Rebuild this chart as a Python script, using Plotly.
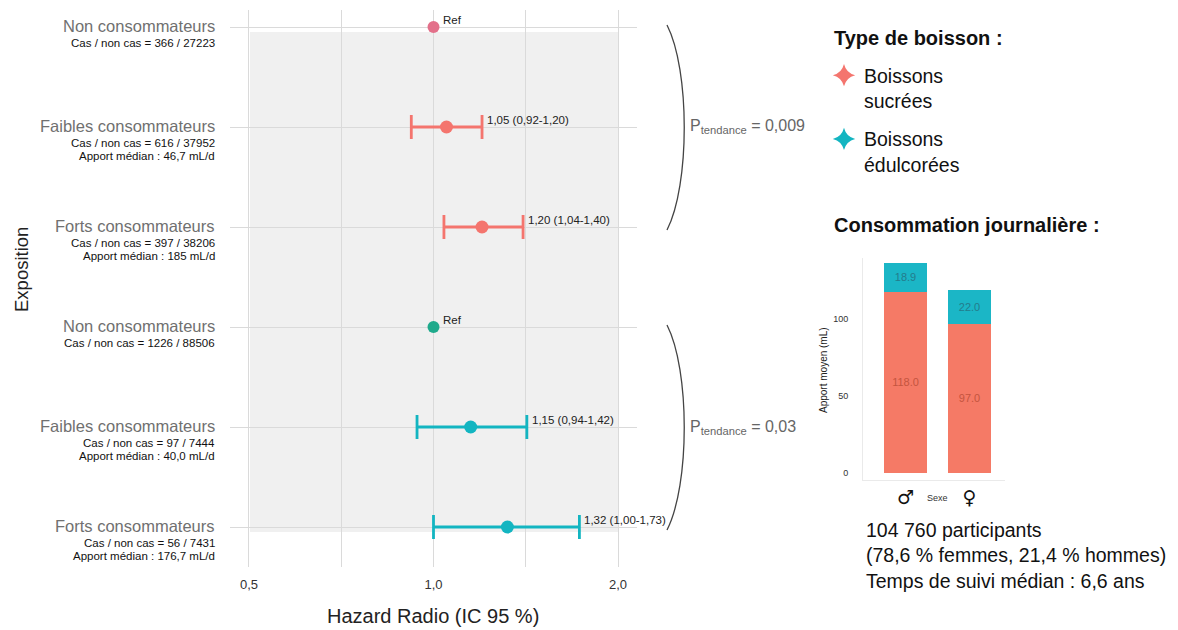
import math
import plotly.graph_objects as go

# ---------------- data ----------------
categories = ["Non consommateurs", "Faibles consommateurs", "Forts consommateurs"]
cas_sucrees = ["Cas / non cas = 366 / 27223", "Cas / non cas = 616 / 37952", "Cas / non cas = 397 / 38206"]
apport_sucrees = ["", "Apport médian : 46,7 mL/d", "Apport médian : 185 mL/d"]
cas_edul = ["Cas / non cas = 1226 / 88506", "Cas / non cas = 97 / 7444", "Cas / non cas = 56 / 7431"]
apport_edul = ["", "Apport médian : 40,0 mL/d", "Apport médian : 176,7 mL/d"]

hr_sucrees = [1.00, 1.05, 1.20]
lo_sucrees = [None, 0.92, 1.04]
hi_sucrees = [None, 1.20, 1.40]
hr_edul = [1.00, 1.15, 1.32]
lo_edul = [None, 0.94, 1.00]
hi_edul = [None, 1.42, 1.73]
p_tendance = ["0,009", "0,03"]

x_ticks = [0.5, 1.0, 2.0]
x_ticktext = ["0,5", "1,0", "2,0"]
x_minor = [0.7071, 1.4142]

sexe = ["♂", "♀"]
conso_sucrees = [118.0, 97.0]
conso_edul = [18.9, 22.0]

participants_text = ["104 760 participants", "(78,6 % femmes, 21,4 % hommes)", "Temps de suivi médian : 6,6 ans"]

# ---------------- styles ----------------
OFF = 8  # default page body margin
W, H = 1178 - OFF, 630 - OFF
FONT = "Liberation Sans, Arial, Helvetica, sans-serif"
RED = "#F4756E"
RED_REF = "#E3708A"
TEAL = "#13B5C1"
TEAL_REF = "#1FAA8C"
BAR_RED = "#F57A66"
BAR_TEAL = "#1BB6C6"


def px(x):
    return (x - OFF) / W


def py(y):
    return 1 - (y - OFF) / H


def fmt(v):
    return f"{v:.2f}".replace(".", ",")


rows_s = [6, 5, 4]
rows_e = [3, 2, 1]

fig = go.Figure()


def add_series(hr, lo, hi, rows, color, ref_color):
    idx = [i for i in range(len(hr)) if lo[i] is not None]
    fig.add_trace(go.Scatter(
        x=[hr[i] for i in idx], y=[rows[i] for i in idx], mode="markers",
        marker=dict(color=color, size=13),
        error_x=dict(type="data", symmetric=False,
                     array=[hi[i] - hr[i] for i in idx],
                     arrayminus=[hr[i] - lo[i] for i in idx],
                     color=color, thickness=2.8, width=12),
        showlegend=False, cliponaxis=False, hoverinfo="skip"))
    ref = [i for i in range(len(hr)) if lo[i] is None]
    fig.add_trace(go.Scatter(
        x=[hr[i] for i in ref], y=[rows[i] for i in ref], mode="markers",
        marker=dict(color=ref_color, size=12),
        showlegend=False, cliponaxis=False, hoverinfo="skip"))
    for i in range(len(hr)):
        if lo[i] is None:
            fig.add_annotation(x=math.log10(hr[i]), y=rows[i], xref="x", yref="y",
                               text="Ref", showarrow=False, xanchor="left", yanchor="middle",
                               xshift=7, yshift=7, font=dict(size=11.5, color="#222", family=FONT))
        else:
            fig.add_annotation(x=math.log10(hi[i]), y=rows[i], xref="x", yref="y",
                               text=f"{fmt(hr[i])} ({fmt(lo[i])}-{fmt(hi[i])})", showarrow=False,
                               xanchor="left", yanchor="middle", xshift=3, yshift=7,
                               font=dict(size=11.5, color="#222", family=FONT))


add_series(hr_sucrees, lo_sucrees, hi_sucrees, rows_s, RED, RED_REF)
add_series(hr_edul, lo_edul, hi_edul, rows_e, TEAL, TEAL_REF)

# legend-only traces
fig.add_trace(go.Scatter(x=[None], y=[None], mode="markers", name="Boissons<br>sucrées", legendgroup="s",
                         marker=dict(symbol="star-diamond", size=16, color=RED)))
fig.add_trace(go.Scatter(x=[None], y=[None], mode="markers", name="Boissons<br>édulcorées", legendgroup="e",
                         marker=dict(symbol="star-diamond", size=16, color=TEAL)))

# inset stacked bars
fig.add_trace(go.Bar(x=sexe, y=conso_sucrees, xaxis="x2", yaxis="y2", marker=dict(color=BAR_RED, line=dict(width=0)),
                     text=[f"{v:.1f}" for v in conso_sucrees], textposition="inside", insidetextanchor="middle",
                     textfont=dict(color="#C4553F", size=11, family=FONT), showlegend=False, hoverinfo="skip"))
fig.add_trace(go.Bar(x=sexe, y=conso_edul, xaxis="x2", yaxis="y2", marker=dict(color=BAR_TEAL, line=dict(width=0)),
                     text=[f"{v:.1f}" for v in conso_edul], textposition="inside", insidetextanchor="middle",
                     textfont=dict(color="#237C8C", size=11, family=FONT), showlegend=False, hoverinfo="skip"))

# row labels
for rows, cas, app in [(rows_s, cas_sucrees, apport_sucrees), (rows_e, cas_edul, apport_edul)]:
    for i, cat in enumerate(categories):
        fig.add_annotation(x=px(217), y=rows[i], xref="paper", yref="y", text=cat, showarrow=False,
                           xanchor="right", yanchor="middle", yshift=1,
                           font=dict(size=16.5, color="#707070", family=FONT))
        fig.add_annotation(x=px(217), y=rows[i], xref="paper", yref="y", text=cas[i], showarrow=False,
                           xanchor="right", yanchor="middle", yshift=-16,
                           font=dict(size=11.5, color="#111", family=FONT))
        if app[i]:
            fig.add_annotation(x=px(217), y=rows[i], xref="paper", yref="y", text=app[i], showarrow=False,
                               xanchor="right", yanchor="middle", yshift=-29,
                               font=dict(size=11.5, color="#111", family=FONT))

# p tendance braces and labels
for rows, p in [(rows_s, p_tendance[0]), (rows_e, p_tendance[1])]:
    top = rows[0] + 0.02
    bot = rows[-1] - 0.03
    x0 = px(667)
    xc = px(690)
    fig.add_shape(type="path", xref="paper", yref="y",
                  path=f"M {x0},{top} C {xc},{top - 0.45} {xc},{bot + 0.45} {x0},{bot}",
                  line=dict(color="#444", width=1.3))
    fig.add_annotation(x=px(688), y=rows[1], xref="paper", yref="y",
                       text=f"P<sub>tendance</sub> = {p}", showarrow=False, xanchor="left", yanchor="middle",
                       font=dict(size=16, color="#666", family=FONT))

# grey panel
fig.add_shape(type="rect", xref="paper", yref="paper", x0=px(250), x1=px(618), y0=py(532), y1=py(32),
              fillcolor="#F0F0F0", line=dict(width=0), layer="below")
# reference dashed line at HR = 1
fig.add_shape(type="line", xref="x", yref="y domain", x0=0, x1=0, y0=0, y1=1,
              line=dict(color="#222", width=1.3, dash="dash"))


def text_at(x, y, text, size, color="#111", xanchor="center", angle=0, align="left", family=FONT):
    fig.add_annotation(x=px(x), y=py(y), xref="paper", yref="paper", text=text, textangle=angle,
                       showarrow=False, xanchor=xanchor, yanchor="middle", align=align,
                       font=dict(size=size, color=color, family=family))


text_at(433, 616, "Hazard Radio (IC 95 %)", 20, "#222")
text_at(21, 270, "Exposition", 18.5, "#222", angle=-90)
text_at(832, 38, "<b>Type de boisson :</b>", 20, xanchor="left")
text_at(832, 225, "<b>Consommation journalière :</b>", 20, xanchor="left")
text_at(823, 370, "Apport moyen (mL)", 10, "#222", angle=-90)
text_at(937, 498, "Sexe", 9, "#333")
text_at(864, 555, "<br>".join(participants_text), 19.5, xanchor="left")

fig.update_layout(
    width=W, height=H, margin=dict(l=0, r=0, t=0, b=0),
    paper_bgcolor="white", plot_bgcolor="rgba(0,0,0,0)",
    font=dict(family=FONT),
    barmode="stack", bargap=0.34,
    xaxis=dict(type="log", domain=[px(230), px(637)], range=[-0.332, 0.332],
               tickvals=x_ticks, ticktext=x_ticktext, showgrid=True, gridcolor="#DADADA", gridwidth=1,
               minor=dict(tickvals=x_minor, showgrid=True, gridcolor="#DADADA", gridwidth=1, ticks=""),
               zeroline=False, showline=False, ticks="", ticklabelstandoff=8,
               tickfont=dict(size=13, color="#333", family=FONT)),
    yaxis=dict(domain=[py(567), py(10)], range=[0.6, 6.17], tickvals=[1, 2, 3, 4, 5, 6],
               showticklabels=False, showgrid=True, gridcolor="#DADADA", gridwidth=1,
               zeroline=False, showline=False, ticks=""),
    xaxis2=dict(domain=[px(863), px(1005)], range=[-0.664, 1.555], anchor="y2",
                showgrid=False, zeroline=False, showline=True, linecolor="#EAEAEA", ticks="",
                tickfont=dict(size=19, color="#111", family="DejaVu Sans")),
    yaxis2=dict(domain=[py(480), py(258)], range=[-4.8, 140], anchor="x2",
                tickvals=[0, 50, 100], showgrid=False, zeroline=False, showline=True, linecolor="#EAEAEA",
                ticks="", ticklabelstandoff=12, tickfont=dict(size=9, color="#333", family=FONT)),
    legend=dict(x=px(824), y=py(56), xanchor="left", yanchor="top", traceorder="grouped",
                font=dict(size=19.5, color="#111", family=FONT), valign="top",
                bgcolor="rgba(0,0,0,0)", tracegroupgap=10, itemwidth=30),
)

fig.write_html("out.html")
